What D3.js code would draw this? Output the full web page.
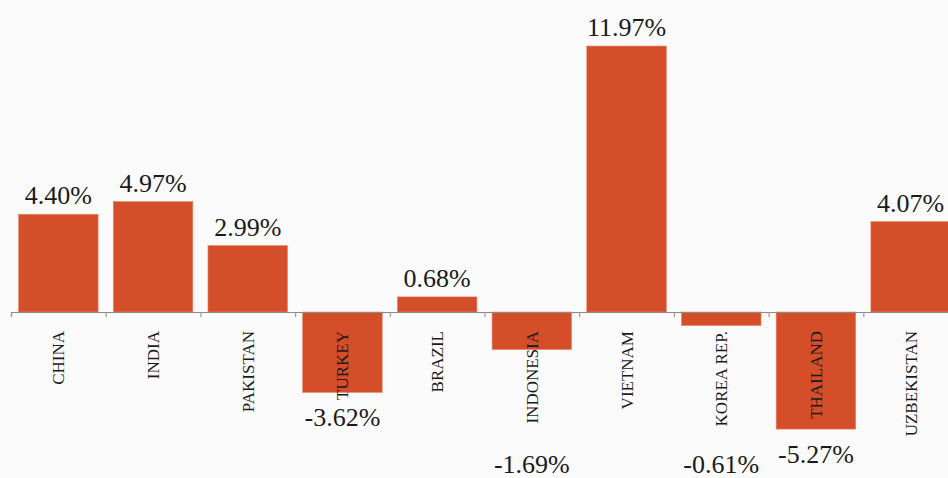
<!DOCTYPE html>
<html>
<head>
<meta charset="utf-8">
<script src="https://cdn.jsdelivr.net/npm/d3@7"></script>
<style>
  html, body { margin: 0; padding: 0; background: #fafafa; }
  svg { display: block; }
</style>
</head>
<body>
<svg id="barChart" width="948" height="478"></svg>
<script>
const countries = ['CHINA', 'INDIA', 'PAKISTAN', 'TURKEY', 'BRAZIL', 'INDONESIA', 'VIETNAM', 'KOREA REP.', 'THAILAND', 'UZBEKISTAN'];
const growth = [4.40, 4.97, 2.99, -3.62, 0.68, -1.69, 11.97, -0.61, -5.27, 4.07];
const valueLabels = ['4.40%', '4.97%', '2.99%', '-3.62%', '0.68%', '-1.69%', '11.97%', '-0.61%', '-5.27%', '4.07%'];

const data = countries.map((c, i) => ({ name: c, value: growth[i], label: valueLabels[i] }));

const svg = d3.select('svg');
const width = +svg.attr('width');
const height = +svg.attr('height');

const xLeft = 11, xRight = 958;
const zeroY = 312, pxPerPct = 22.22;

const xScale = d3.scaleBand().domain(countries).range([xLeft, xRight])
    .paddingInner(0.16).paddingOuter(0.08);
const tickScale = d3.scaleLinear().domain([0, countries.length]).range([xLeft, xRight]);
const yScale = d3.scaleLinear().domain([-6, 12]).range([zeroY + 6 * pxPerPct, zeroY - 12 * pxPerPct]);

const serif = '"Liberation Serif", "Times New Roman", serif';

// bars
svg.append('g').selectAll('rect').data(data).enter().append('rect')
    .attr('x', d => xScale(d.name))
    .attr('y', d => yScale(Math.max(0, d.value)))
    .attr('width', xScale.bandwidth())
    .attr('height', d => Math.abs(yScale(d.value) - yScale(0)))
    .attr('fill', '#d44e2a')
    .attr('stroke', '#e9876b')
    .attr('stroke-width', 0.6);

// axis line with ticks at band boundaries
const axisG = svg.append('g').attr('transform', `translate(0, ${yScale(0)})`)
    .call(d3.axisBottom(tickScale).ticks(countries.length).tickSize(5).tickFormat(''));
axisG.select('.domain').attr('stroke', '#8a8a8a').attr('stroke-width', 1.2);
axisG.selectAll('.tick line').attr('stroke', '#9a9a9a').attr('stroke-width', 1.2);

// category labels, rotated
const catTop = 331;
const cats = svg.append('g').selectAll('text').data(data).enter().append('text')
    .attr('transform', d => `translate(${xScale(d.name) + xScale.bandwidth() / 2}, ${catTop}) rotate(-90)`)
    .attr('dy', '0.35em')
    .attr('text-anchor', 'end')
    .attr('font-family', serif)
    .attr('font-size', 17)
    .attr('fill', '#1a1a1a')
    .text(d => d.name);

const catEnd = {};
cats.each(function(d) { catEnd[d.name] = catTop + this.getComputedTextLength(); });

// value labels
svg.append('g').selectAll('text').data(data).enter().append('text')
    .attr('x', d => xScale(d.name) + xScale.bandwidth() / 2)
    .attr('y', d => {
        if (d.value >= 0) return yScale(d.value) - 10;
        const bottom = yScale(d.value);
        return bottom + 10 >= catEnd[d.name] ? bottom + 34 : 473;
    })
    .attr('text-anchor', 'middle')
    .attr('font-family', serif)
    .attr('font-size', 26)
    .attr('fill', '#1a1a1a')
    .text(d => d.label);
</script>
</body>
</html>
